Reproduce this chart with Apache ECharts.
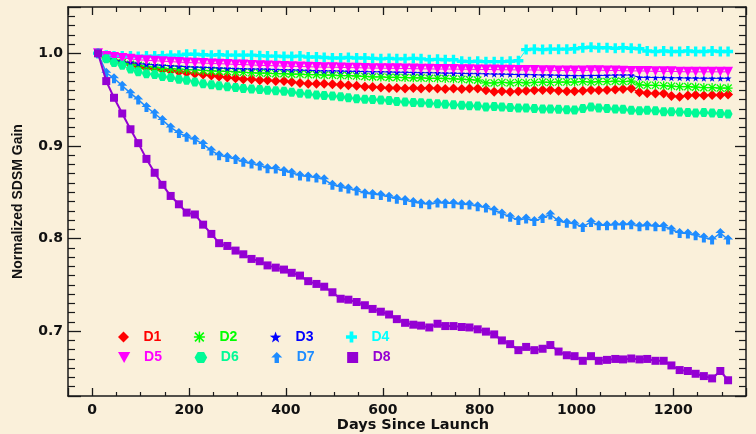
<!DOCTYPE html>
<html>
<head>
<meta charset="utf-8">
<script src="https://cdn.jsdelivr.net/npm/echarts@6/dist/echarts.min.js"></script>
<style>
  html, body { margin: 0; padding: 0; background: #FAF0DA; }
  #chart { width: 756px; height: 434px; }
</style>
</head>
<body>
<div id="chart"></div>
<script>
// Days since launch at which the SDSM detector gains were measured
const days = [
  12, 29, 45, 62, 79, 95, 112, 129, 145, 162,
  179, 195, 212, 229, 246, 262, 279, 296, 312, 329,
  346, 362, 379, 396, 412, 429, 446, 463, 479, 496,
  513, 529, 546, 563, 579, 596, 613, 629, 646, 663,
  679, 696, 713, 729, 746, 763, 779, 796, 813, 830,
  846, 863, 880, 896, 913, 930, 946, 963, 980, 996,
  1013, 1030, 1046, 1063, 1080, 1096, 1113, 1130, 1146, 1163,
  1180, 1196, 1213, 1230, 1246, 1263, 1280, 1297, 1313
];

// Normalized SDSM gain per detector
const d1 = [
  1.000, 0.995, 0.992, 0.990, 0.988, 0.986, 0.984, 0.983, 0.982, 0.981,
  0.980, 0.979, 0.978, 0.977, 0.976, 0.975, 0.974, 0.973, 0.972, 0.972,
  0.971, 0.971, 0.970, 0.970, 0.969, 0.968, 0.967, 0.967, 0.967, 0.9665,
  0.966, 0.9655, 0.965, 0.964, 0.9635, 0.963, 0.9625, 0.9625, 0.962, 0.9625,
  0.962, 0.9625, 0.962, 0.9615, 0.962, 0.9615, 0.962, 0.962, 0.960, 0.9585,
  0.959, 0.9585, 0.959, 0.9595, 0.960, 0.9605, 0.9605, 0.9595, 0.959, 0.959,
  0.9595, 0.9605, 0.960, 0.9605, 0.961, 0.9615, 0.962, 0.958, 0.957, 0.9565,
  0.9565, 0.954, 0.953, 0.9545, 0.955, 0.9545, 0.955, 0.955, 0.9555
];
const d2 = [
  1.000, 0.995, 0.992, 0.990, 0.988, 0.987, 0.986, 0.985, 0.984, 0.9835,
  0.983, 0.9825, 0.982, 0.9815, 0.981, 0.9808, 0.9805, 0.980, 0.9795, 0.979,
  0.9787, 0.9785, 0.978, 0.978, 0.9775, 0.9775, 0.977, 0.977, 0.9765, 0.9765,
  0.976, 0.976, 0.9755, 0.975, 0.9745, 0.9745, 0.974, 0.974, 0.9738, 0.9735,
  0.9735, 0.973, 0.973, 0.9728, 0.9725, 0.972, 0.9715, 0.971, 0.968, 0.968,
  0.9685, 0.968, 0.9685, 0.968, 0.9685, 0.969, 0.9685, 0.969, 0.969, 0.969,
  0.9695, 0.969, 0.9695, 0.9695, 0.970, 0.9695, 0.970, 0.966, 0.9655, 0.9655,
  0.965, 0.9645, 0.964, 0.964, 0.9635, 0.963, 0.963, 0.9625, 0.9625
];
const d3 = [
  1.000, 0.996, 0.993, 0.991, 0.990, 0.989, 0.988, 0.9875, 0.987, 0.9865,
  0.986, 0.9855, 0.985, 0.9848, 0.9845, 0.984, 0.9838, 0.9835, 0.9832, 0.983,
  0.983, 0.9828, 0.9825, 0.9822, 0.982, 0.9818, 0.9815, 0.9812, 0.981, 0.981,
  0.9808, 0.9805, 0.9805, 0.9802, 0.980, 0.980, 0.9798, 0.9795, 0.9795, 0.9792,
  0.979, 0.979, 0.9788, 0.9785, 0.9785, 0.9782, 0.978, 0.978, 0.9778, 0.9775,
  0.9775, 0.9772, 0.977, 0.977, 0.9768, 0.9765, 0.9765, 0.9762, 0.976, 0.9758,
  0.9758, 0.976, 0.976, 0.9762, 0.9765, 0.9765, 0.9765, 0.974, 0.974, 0.9738,
  0.9738, 0.9735, 0.9735, 0.9732, 0.9732, 0.973, 0.973, 0.973, 0.973
];
const d4 = [
  1.000, 0.998, 0.997, 0.997, 0.997, 0.9965, 0.997, 0.997, 0.9975, 0.998,
  0.998, 0.999, 0.999, 0.9985, 0.998, 0.9985, 0.998, 0.998, 0.998, 0.998,
  0.9975, 0.997, 0.997, 0.9965, 0.9965, 0.997, 0.996, 0.996, 0.9955, 0.995,
  0.995, 0.9955, 0.995, 0.995, 0.9945, 0.994, 0.9945, 0.994, 0.994, 0.9945,
  0.994, 0.993, 0.9935, 0.993, 0.993, 0.9915, 0.991, 0.9915, 0.991, 0.991,
  0.991, 0.9915, 0.992, 1.004, 1.0045, 1.004, 1.0045, 1.0045, 1.0045, 1.005,
  1.006, 1.0065, 1.006, 1.006, 1.0055, 1.006, 1.0055, 1.005, 1.0025, 1.002,
  1.0025, 1.002, 1.002, 1.0025, 1.002, 1.002, 1.0025, 1.002, 1.002
];
const d5 = [
  1.000, 0.997, 0.996, 0.995, 0.994, 0.993, 0.9925, 0.992, 0.9915, 0.991,
  0.9905, 0.990, 0.9898, 0.9895, 0.989, 0.9888, 0.9885, 0.988, 0.9878, 0.9875,
  0.987, 0.9868, 0.9865, 0.9862, 0.986, 0.9858, 0.9855, 0.9852, 0.985, 0.985,
  0.9848, 0.9845, 0.9845, 0.9842, 0.984, 0.984, 0.9838, 0.9838, 0.9835, 0.9835,
  0.9832, 0.9832, 0.983, 0.983, 0.983, 0.9828, 0.9828, 0.9825, 0.9825, 0.9825,
  0.9822, 0.9822, 0.982, 0.982, 0.982, 0.9818, 0.9818, 0.9815, 0.9815, 0.9815,
  0.9815, 0.9818, 0.9818, 0.9815, 0.9815, 0.9812, 0.981, 0.981, 0.9808, 0.9805,
  0.9805, 0.9805, 0.9802, 0.980, 0.980, 0.980, 0.980, 0.980, 0.980
];
const d6 = [
  1.000, 0.994, 0.990, 0.987, 0.983, 0.980, 0.978, 0.977, 0.975, 0.974,
  0.972, 0.971, 0.969, 0.967, 0.966, 0.965, 0.964, 0.963, 0.962, 0.9615,
  0.961, 0.960, 0.9595, 0.959, 0.958, 0.957, 0.956, 0.955, 0.9545, 0.954,
  0.953, 0.952, 0.951, 0.9505, 0.950, 0.9495, 0.949, 0.948, 0.9475, 0.947,
  0.9465, 0.946, 0.9455, 0.945, 0.9445, 0.944, 0.9435, 0.943, 0.942, 0.9425,
  0.942, 0.9415, 0.941, 0.941, 0.9405, 0.940, 0.940, 0.9395, 0.939, 0.9387,
  0.9405, 0.942, 0.941, 0.9405, 0.940, 0.9395, 0.9385, 0.938, 0.9385, 0.938,
  0.937, 0.937, 0.9365, 0.936, 0.9355, 0.936, 0.9355, 0.935, 0.9345
];
const d7 = [
  1.000, 0.979, 0.973, 0.965, 0.957, 0.950, 0.942, 0.935, 0.928, 0.920,
  0.914, 0.910, 0.907, 0.902, 0.895, 0.890, 0.888, 0.886, 0.883, 0.881,
  0.879, 0.876, 0.8755, 0.873, 0.871, 0.868, 0.867, 0.866, 0.864, 0.858,
  0.856, 0.854, 0.852, 0.849, 0.848, 0.847, 0.845, 0.843, 0.8415, 0.8395,
  0.838, 0.837, 0.839, 0.838, 0.838, 0.837, 0.8367, 0.835, 0.8335, 0.8306,
  0.827, 0.8234, 0.820, 0.8216, 0.819, 0.8223, 0.826, 0.819, 0.817, 0.816,
  0.8126, 0.818, 0.8144, 0.8144, 0.815, 0.815, 0.8154, 0.8133, 0.8144, 0.8133,
  0.8133, 0.8097, 0.806, 0.8054, 0.8036, 0.801, 0.799, 0.806, 0.799
];
const d8 = [
  1.000, 0.970, 0.952, 0.935, 0.918, 0.903, 0.886, 0.871, 0.858, 0.846,
  0.837, 0.828, 0.826, 0.815, 0.805, 0.795, 0.792, 0.787, 0.783, 0.778,
  0.7755, 0.771, 0.7686, 0.7665, 0.763, 0.760, 0.754, 0.751, 0.748, 0.742,
  0.735, 0.734, 0.7315, 0.728, 0.724, 0.721, 0.718, 0.713, 0.709, 0.707,
  0.706, 0.704, 0.708, 0.7055, 0.7055, 0.7045, 0.704, 0.702, 0.6995, 0.6965,
  0.690, 0.686, 0.6795, 0.683, 0.6795, 0.681, 0.685, 0.678, 0.674, 0.673,
  0.668, 0.673, 0.668, 0.669, 0.670, 0.6695, 0.6705, 0.6695, 0.670, 0.668,
  0.668, 0.663, 0.658, 0.657, 0.654, 0.6515, 0.649, 0.657, 0.647
];

const detectorNames = ['D1', 'D2', 'D3', 'D4', 'D5', 'D6', 'D7', 'D8'];
const detectorValues = [d1, d2, d3, d4, d5, d6, d7, d8];
const detectorColors = ['#FF0000', '#00FF00', '#0000FF', '#00FFFF',
                        '#FF00FF', '#00FA96', '#1E8CFF', '#9400D3'];

// Marker shapes (filled paths, 10x10 design box)
const SYM = {
  diamond: 'path://M5,0 L10,5 L5,10 L0,5 Z',
  asterisk: 'path://M4.3,0 H5.7 V10 H4.3 Z M0,4.3 H10 V5.7 H0 Z ' +
            'M1.5,0.5 L9.5,8.5 L8.5,9.5 L0.5,1.5 Z M8.5,0.5 L9.5,1.5 L1.5,9.5 L0.5,8.5 Z',
  star: 'path://M5,0 L6.18,3.38 L9.76,3.45 L6.9,5.62 L7.94,9.05 L5,7 L2.06,9.05 L3.1,5.62 L0.24,3.45 L3.82,3.38 Z',
  plus: 'path://M3.3,0 H6.7 V3.3 H10 V6.7 H6.7 V10 H3.3 V6.7 H0 V3.3 H3.3 Z',
  triDown: 'path://M0,0 H10 L5,9 Z',
  hexagon: 'path://M2.5,0 H7.5 L10,4.33 L7.5,8.66 H2.5 L0,4.33 Z',
  arrowUp: 'path://M5,0 L10,5 H7 V10 H3 V5 H0 Z',
  square: 'path://M0,0 H10 V10 H0 Z'
};
const detectorSymbols = [SYM.diamond, SYM.asterisk, SYM.star, SYM.plus,
                         SYM.triDown, SYM.hexagon, SYM.arrowUp, SYM.square];
const symbolSizes = [10, 9, 7, 10, 10, 9, 10, 8];
const lineWidths = [1, 1, 1, 1, 1, 1, 1.5, 2];

const AXIS_COLOR = '#1a1a1a';
const tickFont = { fontFamily: 'DejaVu Sans', fontWeight: 'bold', fontSize: 14, color: '#111' };

const series = detectorNames.map((name, k) => ({
  type: 'line',
  name: name,
  data: days.map((d, i) => [d, detectorValues[k][i]]),
  symbol: detectorSymbols[k],
  symbolSize: symbolSizes[k],
  showAllSymbol: true,
  lineStyle: { width: lineWidths[k], color: detectorColors[k] },
  itemStyle: { color: detectorColors[k] },
  emphasis: { disabled: true },
  z: 2 + k
}));

function legendRow(names, top) {
  return {
    data: names.map(n => {
      const k = detectorNames.indexOf(n);
      return { name: n, icon: detectorSymbols[k], textStyle: { color: detectorColors[k] } };
    }),
    orient: 'horizontal',
    left: 118,
    top: top,
    padding: 0,
    itemWidth: 30,
    itemHeight: 11,
    itemGap: 32.5,
    selectedMode: false,
    textStyle: { fontFamily: 'Liberation Sans', fontWeight: 'bold', fontSize: 14 }
  };
}

// Ticks point into the plot box: a negative length turns them inward
function xAxisDef(pos, showLabels, tickLen, minorLen) {
  return {
    type: 'value', position: pos, min: -50, max: 1350, splitNumber: 7,
    name: showLabels ? 'Days Since Launch' : '',
    nameLocation: 'middle', nameGap: 22, nameMoveOverlap: false,
    nameTextStyle: { fontFamily: 'DejaVu Sans', fontWeight: 'bold', fontSize: 14.5, color: '#111',
                     padding: [0, 0, 0, 12] },
    axisLine: { show: true, onZero: false, lineStyle: { color: AXIS_COLOR, width: 1.5 } },
    axisTick: { show: true, inside: false, length: -tickLen, lineStyle: { color: AXIS_COLOR, width: 1.3 } },
    minorTick: { show: true, splitNumber: 4, length: -minorLen, lineStyle: { color: AXIS_COLOR, width: 1.2 } },
    axisLabel: {
      show: showLabels, margin: 7, ...tickFont,
      formatter: v => (Math.abs(v % 200) < 1e-6 ? String(v) : '')
    },
    splitLine: { show: false }, minorSplitLine: { show: false }
  };
}

function yAxisDef(pos, showLabels, tickLen, minorLen) {
  return {
    type: 'value', position: pos, min: 0.63, max: 1.05, splitNumber: 4,
    name: showLabels ? 'Normalized SDSM Gain' : '',
    nameLocation: 'middle', nameGap: 43, nameRotate: 90, nameMoveOverlap: false,
    nameTextStyle: { fontFamily: 'Liberation Sans', fontWeight: 'bold', fontSize: 14, color: '#111' },
    axisLine: { show: true, onZero: false, lineStyle: { color: AXIS_COLOR, width: 1.5 } },
    axisTick: { show: true, inside: false, length: -tickLen, lineStyle: { color: AXIS_COLOR, width: 1.3 } },
    minorTick: { show: true, splitNumber: 10, length: -minorLen, lineStyle: { color: AXIS_COLOR, width: 1.2 } },
    axisLabel: {
      show: showLabels, margin: 5, ...tickFont,
      formatter: v => (Math.abs(v * 10 - Math.round(v * 10)) < 1e-6 ? v.toFixed(1) : '')
    },
    splitLine: { show: false }, minorSplitLine: { show: false }
  };
}

const chart = echarts.init(document.getElementById('chart'), null, { renderer: 'canvas' });
chart.setOption({
  backgroundColor: '#FAF0DA',
  animation: false,
  grid: { left: 68, right: 10, top: 7, bottom: 38, outerBoundsMode: 'none' },
  xAxis: [xAxisDef('bottom', true, 8, 4), xAxisDef('top', false, 8, 5)],
  yAxis: [yAxisDef('left', true, 13, 7), yAxisDef('right', false, 11, 7)],
  legend: [legendRow(['D1', 'D2', 'D3', 'D4'], 330), legendRow(['D5', 'D6', 'D7', 'D8'], 350.5)],
  series: series
});
</script>
</body>
</html>
